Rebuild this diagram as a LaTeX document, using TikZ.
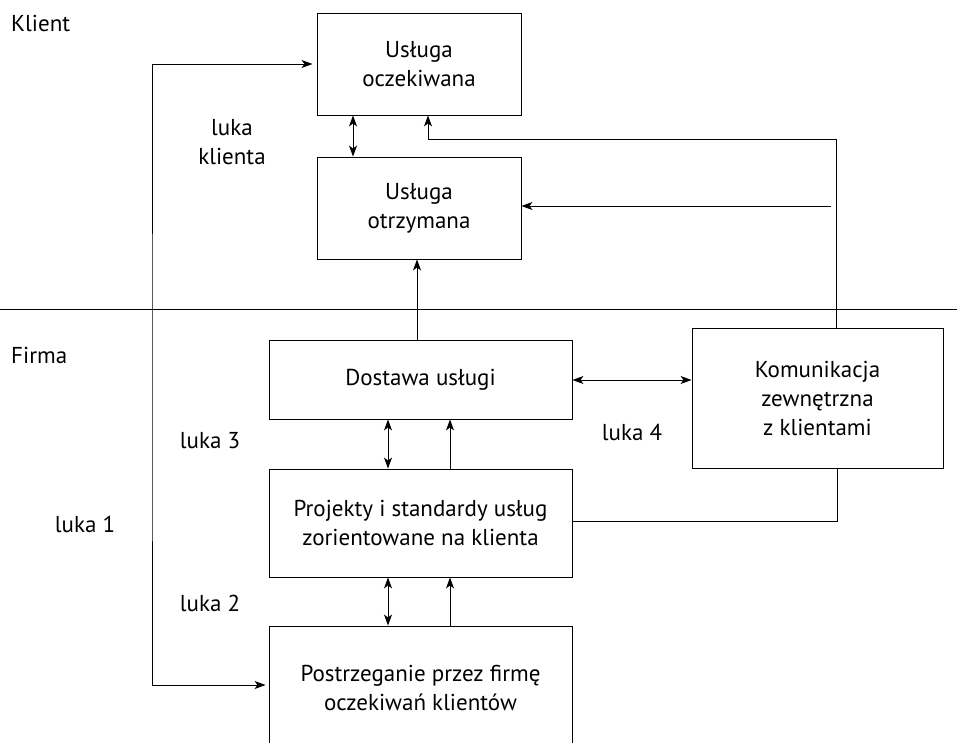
\documentclass[tikz,border=0pt]{standalone}
\usepackage{fontspec}
\setmainfont{PT Sans}
\usetikzlibrary{arrows.meta}
\begin{document}
\begin{tikzpicture}[x=1pt,y=-1pt,
  >={Stealth[length=11pt,width=8pt,inset=3pt]},
  txt/.style={font=\fontsize{23}{29}\selectfont},
  box/.style={txt,draw,line width=0.9pt,align=center,inner sep=0pt},
  lbl/.style={txt,align=center,inner sep=0pt},
  conn/.style={line width=0.9pt}]
\useasboundingbox (0,0) rectangle (957,743);
\clip (0,0) rectangle (957,743);

% boxes
\node[box,minimum width=204,minimum height=102] (exp) at (419,64) {Usługa\\oczekiwana};
\node[box,minimum width=204,minimum height=102] (rec) at (419,208) {Usługa\\otrzymana};
\node[box,minimum width=303,minimum height=79] (del) at (420.5,379.5) {Dostawa usługi};
\node[box,minimum width=303,minimum height=108] (std) at (420.5,523) {Projekty i standardy usług\\zorientowane na klienta};
\node[box,minimum width=303,minimum height=124] (per) at (420.5,688) {Postrzeganie przez firmę\\oczekiwań klientów};
\node[box,minimum width=251,minimum height=140] (com) at (817.5,398) {Komunikacja\\zewnętrzna\\z klientami};

% labels
\node[lbl,anchor=west] (klient) at (11,23) {Klient};
\node[lbl,anchor=west] (firma) at (11,355) {Firma};
\node[lbl] (lk) at (232,142) {luka\\klienta};
\node[lbl] (l3) at (210,441) {luka 3};
\node[lbl] (l4) at (632,432) {luka 4};
\node[lbl] (l2) at (210,603) {luka 2};
\node[lbl] (l1) at (85,524) {luka 1};

% separator between client and company
\coordinate (sepL) at (0,309);
\coordinate (sepR) at (957,309);
\draw[conn] (sepL) -- (sepR);

% connectors
\draw[conn,<->,shorten <=4pt,shorten >=3pt] (exp.west) -| (152,400) |- (per.west |- 0,685);
\draw[conn,<->] (exp.south -| 353,0) -- (rec.north -| 353,0);
\draw[conn,->] (com.north -| 836,0) |- (428,139) -- (exp.south -| 428,0);
\coordinate (feed) at (831,206);
\draw[conn,->] (feed) -- (rec.east |- feed);
\draw[conn,->] (del.north -| 417,0) -- (rec.south -| 417,0);
\draw[conn,<->] (del.east |- 0,380) -- (com.west |- 0,380);
\draw[conn,<->] (std.north -| 388,0) -- (del.south -| 388,0);
\draw[conn,->] (std.north -| 450,0) -- (del.south -| 450,0);
\draw[conn,<->] (per.north -| 388,0) -- (std.south -| 388,0);
\draw[conn,->] (per.north -| 450,0) -- (std.south -| 450,0);
\draw[conn] (com.south -| 837,0) |- (std.east |- 0,521);
\end{tikzpicture}
\end{document}
